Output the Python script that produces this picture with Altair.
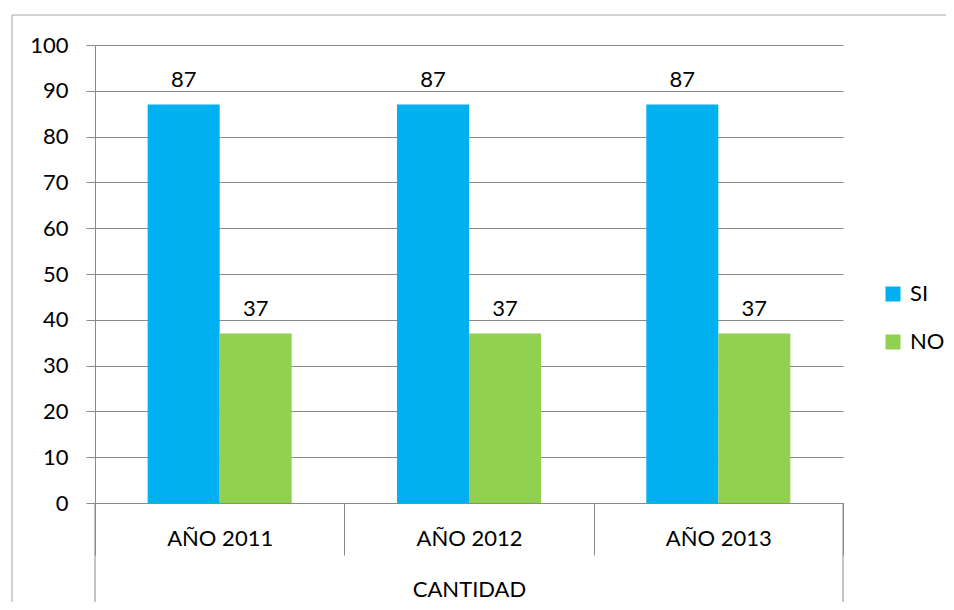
import altair as alt
import pandas as pd

years = ["AÑO 2011", "AÑO 2012", "AÑO 2013"]
series = ["SI", "NO"]
si_values = [87, 87, 87]
no_values = [37, 37, 37]
colors = ["#00B0F0", "#92D050"]
y_ticks = [0, 10, 20, 30, 40, 50, 60, 70, 80, 90, 100]

rows = []
for i, yr in enumerate(years):
    rows.append({"year": yr, "serie": "SI", "value": si_values[i]})
    rows.append({"year": yr, "serie": "NO", "value": no_values[i]})
df = pd.DataFrame(rows)

W, H = 748, 458
FONT = "Lato"
FS = 22
GRID = "#8a8a8a"

x_enc = alt.X(
    "year:N", sort=years,
    scale=alt.Scale(paddingInner=0, paddingOuter=0),
    axis=alt.Axis(
        title="CANTIDAD", tickBand="extent", tickSize=52, tickColor=GRID,
        domainColor=GRID, labelAngle=0, labelFontSize=FS, labelFont=FONT,
        labelColor="black", labelPadding=-17, labelBaseline="middle",
        titleFont=FONT, titleFontSize=FS, titleFontWeight="normal",
        titleColor="black", titleY=86, titleBaseline="middle", grid=False,
    ),
)
xo_enc = alt.XOffset("serie:N", sort=series,
                     scale=alt.Scale(paddingInner=0, paddingOuter=0.731))
y_enc = alt.Y(
    "value:Q", scale=alt.Scale(domain=[0, 100]),
    axis=alt.Axis(
        values=y_ticks, title=None, tickSize=9, tickColor=GRID,
        domainColor=GRID, gridColor=GRID, grid=True, labelFont=FONT,
        labelFontSize=FS, labelColor="black", labelPadding=18,
    ),
)
color_enc = alt.Color(
    "serie:N", sort=series,
    scale=alt.Scale(domain=series, range=colors),
    legend=alt.Legend(
        title=None, orient="none", legendX=787, legendY=238,
        symbolType="square", symbolSize=225, symbolStrokeWidth=0,
        labelFont=FONT, labelFontSize=FS, labelColor="black",
        rowPadding=26, labelOffset=6,
    ),
)

bars = alt.Chart(df).mark_bar().encode(
    x=x_enc, xOffset=xo_enc, y=y_enc, color=color_enc
)
labels = alt.Chart(df).mark_text(
    font=FONT, fontSize=FS, color="black", baseline="alphabetic", dy=-18
).encode(x=x_enc, xOffset=xo_enc, y=y_enc, text="value:Q")

one = pd.DataFrame({"a": [0]})
left_ext = alt.Chart(one).mark_rule(color=GRID).encode(
    x=alt.value(0), y=alt.value(H), y2=alt.value(H + 120))
right_ext = alt.Chart(one).mark_rule(color=GRID).encode(
    x=alt.value(W), y=alt.value(H), y2=alt.value(H + 120))
border_left = alt.Chart(one).mark_rule(color="#a6a6a6").encode(
    x=alt.value(-83), y=alt.value(-30), y2=alt.value(H + 200))
border_top = alt.Chart(one).mark_rule(color="#a6a6a6").encode(
    x=alt.value(-83), x2=alt.value(W + 200), y=alt.value(-30))

chart = alt.layer(border_left, border_top, left_ext, right_ext, bars, labels).properties(
    width=W, height=H,
    autosize=alt.AutoSizeParams(type="none"),
    padding={"left": 87, "top": 37, "right": 103, "bottom": 99},
).configure_view(stroke=None)

chart.save("out.html", embed_options={"renderer": "svg", "actions": False})
